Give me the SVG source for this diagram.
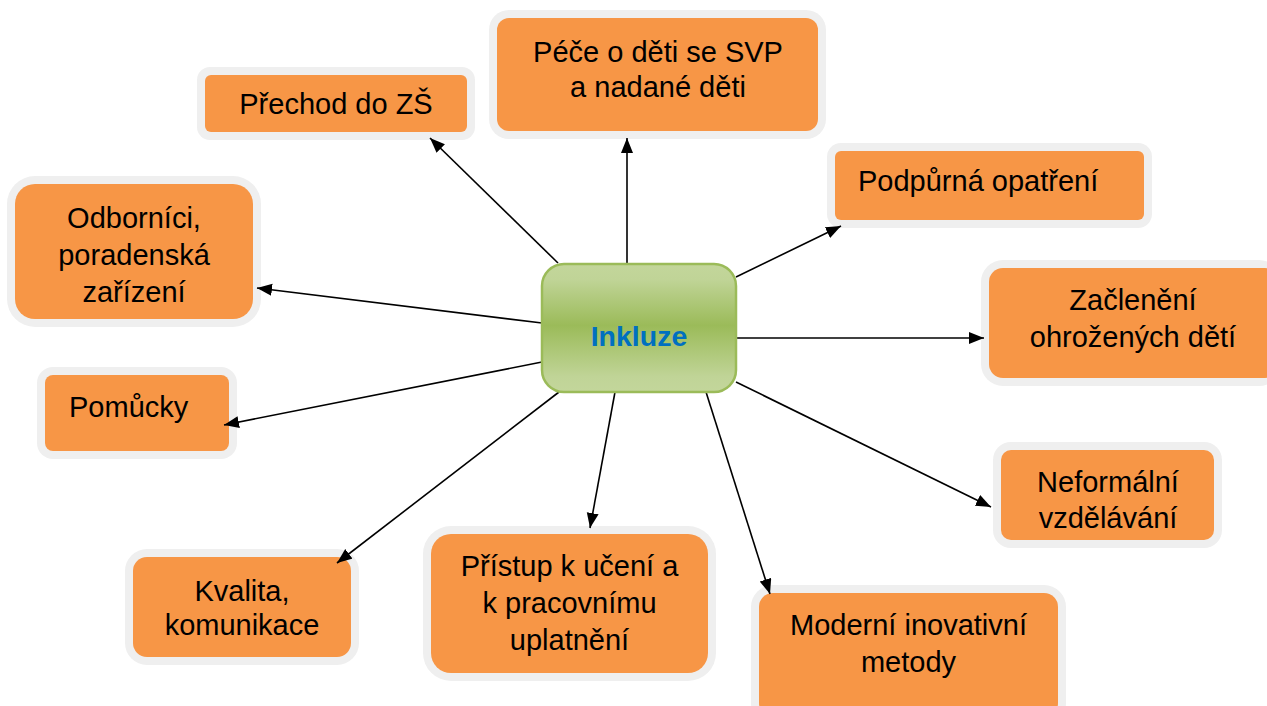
<svg xmlns="http://www.w3.org/2000/svg" width="1267" height="706" viewBox="0 0 1267 706">
<defs>
<linearGradient id="gr" x1="0" y1="0" x2="0" y2="1">
<stop offset="0" stop-color="#C3D69B"/>
<stop offset="0.12" stop-color="#C0D497"/>
<stop offset="0.48" stop-color="#9BBB59"/>
<stop offset="0.88" stop-color="#C0D497"/>
<stop offset="1" stop-color="#C3D69B"/>
</linearGradient>
<marker id="ah" markerUnits="userSpaceOnUse" markerWidth="17" markerHeight="13" refX="15" refY="6" orient="auto">
<path d="M0,0 L15,6 L0,12 z" fill="#000"/>
</marker>
</defs>
<style>
.glow{fill:#EFEFEF}
.box{fill:#F79646}
.t{font-family:"Liberation Sans",Arial,sans-serif;font-size:29px;fill:#000;text-anchor:middle}
.tl{text-anchor:start}
.c{stroke:#000;stroke-width:1.6;fill:none;marker-end:url(#ah)}
</style>
<rect width="1267" height="706" fill="#fff"/>
<g id="n-prechod">
<rect class="glow" x="197" y="67" width="278" height="73" rx="13"/>
<rect class="box" x="205" y="75" width="262" height="57" rx="6"/>
<text class="t" x="336" y="114">Přechod do ZŠ</text>
</g>
<g id="n-pece">
<rect class="glow" x="489" y="10" width="337" height="129" rx="20"/>
<rect class="box" x="497" y="18" width="321" height="113" rx="12"/>
<text class="t" x="658" y="62">Péče o děti se SVP</text>
<text class="t" x="658" y="97">a nadané děti</text>
</g>
<g id="n-podpurna">
<rect class="glow" x="827" y="143" width="325" height="85" rx="14"/>
<rect class="box" x="835" y="151" width="309" height="69" rx="6"/>
<text class="t tl" x="858" y="191">Podpůrná opatření</text>
</g>
<g id="n-zacleneni">
<rect class="glow" x="981" y="260" width="300" height="126" rx="22"/>
<rect class="box" x="989" y="268" width="290" height="110" rx="14"/>
<text class="t" x="1133" y="310">Začlenění</text>
<text class="t" x="1133" y="347">ohrožených dětí</text>
</g>
<g id="n-odbornici">
<rect class="glow" x="7" y="176" width="254" height="151" rx="28"/>
<rect class="box" x="15" y="184" width="238" height="135" rx="20"/>
<text class="t" x="134" y="228">Odborníci,</text>
<text class="t" x="134" y="265">poradenská</text>
<text class="t" x="134" y="302">zařízení</text>
</g>
<g id="n-pomucky">
<rect class="glow" x="37" y="367" width="200" height="92" rx="16"/>
<rect class="box" x="45" y="375" width="184" height="76" rx="8"/>
<text class="t tl" x="69" y="417">Pomůcky</text>
</g>
<g id="n-neformalni">
<rect class="glow" x="993" y="442" width="229" height="106" rx="18"/>
<rect class="box" x="1001" y="450" width="213" height="90" rx="10"/>
<text class="t" x="1108" y="492">Neformální</text>
<text class="t" x="1108" y="528">vzdělávání</text>
</g>
<g id="n-kvalita">
<rect class="glow" x="125" y="549" width="234" height="116" rx="22"/>
<rect class="box" x="133" y="557" width="218" height="100" rx="14"/>
<text class="t" x="242" y="601">Kvalita,</text>
<text class="t" x="242" y="635">komunikace</text>
</g>
<g id="n-pristup">
<rect class="glow" x="423" y="526" width="293" height="155" rx="28"/>
<rect class="box" x="431" y="534" width="277" height="139" rx="20"/>
<text class="t" x="569.5" y="576">Přístup k učení a</text>
<text class="t" x="569.5" y="613">k pracovnímu</text>
<text class="t" x="569.5" y="650">uplatnění</text>
</g>
<g id="n-moderni">
<rect class="glow" x="751" y="585" width="315" height="140" rx="22"/>
<rect class="box" x="759" y="593" width="299" height="124" rx="14"/>
<text class="t" x="908.5" y="635">Moderní inovativní</text>
<text class="t" x="908.5" y="672">metody</text>
</g>
<g id="connectors">
<line class="c" x1="558" y1="263" x2="430" y2="138"/>
<line class="c" x1="627" y1="263" x2="627" y2="138"/>
<line class="c" x1="736" y1="277" x2="841" y2="226"/>
<line class="c" x1="736" y1="338" x2="984" y2="338"/>
<line class="c" x1="736" y1="382" x2="991" y2="507"/>
<line class="c" x1="706" y1="392" x2="770" y2="594"/>
<line class="c" x1="615" y1="392" x2="590" y2="528"/>
<line class="c" x1="559" y1="392" x2="337" y2="563"/>
<line class="c" x1="542" y1="362" x2="224" y2="425"/>
<line class="c" x1="542" y1="323" x2="257" y2="288"/>
</g>
<g id="n-inkluze">
<rect x="542" y="264" width="194" height="128" rx="22" fill="url(#gr)" stroke="#9BBB59" stroke-width="2.5"/>
<text x="639" y="346" font-family="Liberation Sans,Arial,sans-serif" font-size="28.5" font-weight="bold" fill="#0070C0" text-anchor="middle">Inkluze</text>
</g>
</svg>
